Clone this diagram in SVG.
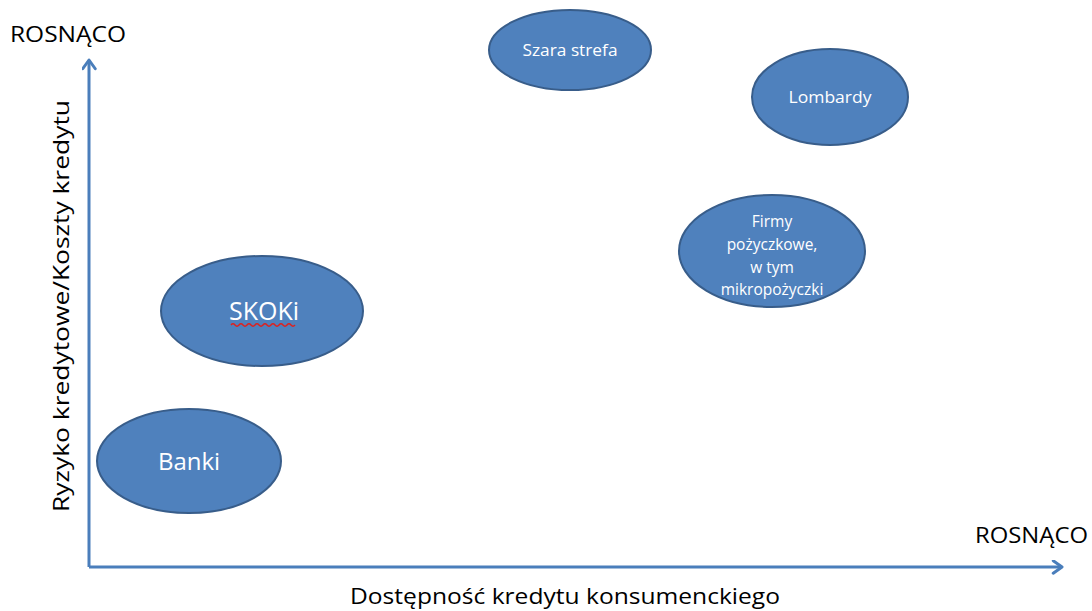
<svg xmlns="http://www.w3.org/2000/svg" width="1092" height="611" viewBox="0 0 1092 611">
<style>
.node ellipse{fill:#4F81BD;stroke:#385D8A;stroke-width:2}
.nt{fill:#FFFFFF;font-family:"Open Sans","Liberation Sans",sans-serif;text-anchor:middle}
.lbl{fill:#000000;font-family:"Open Sans","Liberation Sans",sans-serif}
.axis{stroke:#4A7EBB;stroke-width:3;fill:none}
</style>
<defs>
<marker id="arr" viewBox="0 0 12 12" refX="9" refY="6" markerWidth="5" markerHeight="5" orient="auto" markerUnits="strokeWidth">
<path d="M2,1 L9,6 L2,11" fill="none" stroke="#4A7EBB" stroke-width="2.4" stroke-linecap="round" stroke-linejoin="round"/>
</marker>
</defs>
<rect width="1092" height="611" fill="#FFFFFF"/>
<g id="connectors">
<line class="axis" x1="89" y1="567" x2="89" y2="60" marker-end="url(#arr)"/>
<line class="axis" x1="89" y1="567" x2="1062" y2="567" marker-end="url(#arr)"/>
</g>
<g id="labels">
<text class="lbl" x="10" y="42" font-size="21" textLength="116" lengthAdjust="spacingAndGlyphs">ROSNĄCO</text>
<text class="lbl" x="975" y="543" font-size="21" textLength="113" lengthAdjust="spacingAndGlyphs">ROSNĄCO</text>
<text class="lbl" x="565" y="604" font-size="21" text-anchor="middle" textLength="430" lengthAdjust="spacingAndGlyphs">Dostępność kredytu konsumenckiego</text>
<text class="lbl" transform="translate(69,306) rotate(-90)" x="0" y="0" font-size="21" text-anchor="middle" textLength="412" lengthAdjust="spacingAndGlyphs">Ryzyko kredytowe/Koszty kredytu</text>
</g>
<g id="szara-strefa" class="node">
<ellipse cx="570" cy="50" rx="81" ry="40"/>
<text class="nt" x="570" y="56" font-size="16.5" textLength="95" lengthAdjust="spacingAndGlyphs">Szara strefa</text>
</g>
<g id="lombardy" class="node">
<ellipse cx="830" cy="97" rx="78" ry="48"/>
<text class="nt" x="830" y="103" font-size="16.5" textLength="83" lengthAdjust="spacingAndGlyphs">Lombardy</text>
</g>
<g id="firmy" class="node">
<ellipse cx="772" cy="251" rx="93" ry="56"/>
<text class="nt" font-size="15.5"><tspan x="772" y="227">Firmy</tspan><tspan x="772" y="250">pożyczkowe,</tspan><tspan x="772" y="273">w tym</tspan><tspan x="772" y="295">mikropożyczki</tspan></text>
</g>
<g id="skoki" class="node">
<ellipse cx="262" cy="311" rx="101" ry="55"/>
<text class="nt" x="264" y="320" font-size="25" textLength="70" lengthAdjust="spacingAndGlyphs">SKOKi</text>
<path d="M231,325 q2,-2.5 4,0 t4,0 t4,0 t4,0 t4,0 t4,0 t4,0 t4,0 t4,0 t4,0 t4,0 t4,0 t4,0 t4,0 t4,0 t4,0" fill="none" stroke="#E0201C" stroke-width="1.3"/>
</g>
<g id="banki" class="node">
<ellipse cx="189" cy="461" rx="92" ry="52"/>
<text class="nt" x="189" y="470" font-size="24">Banki</text>
</g>
</svg>
